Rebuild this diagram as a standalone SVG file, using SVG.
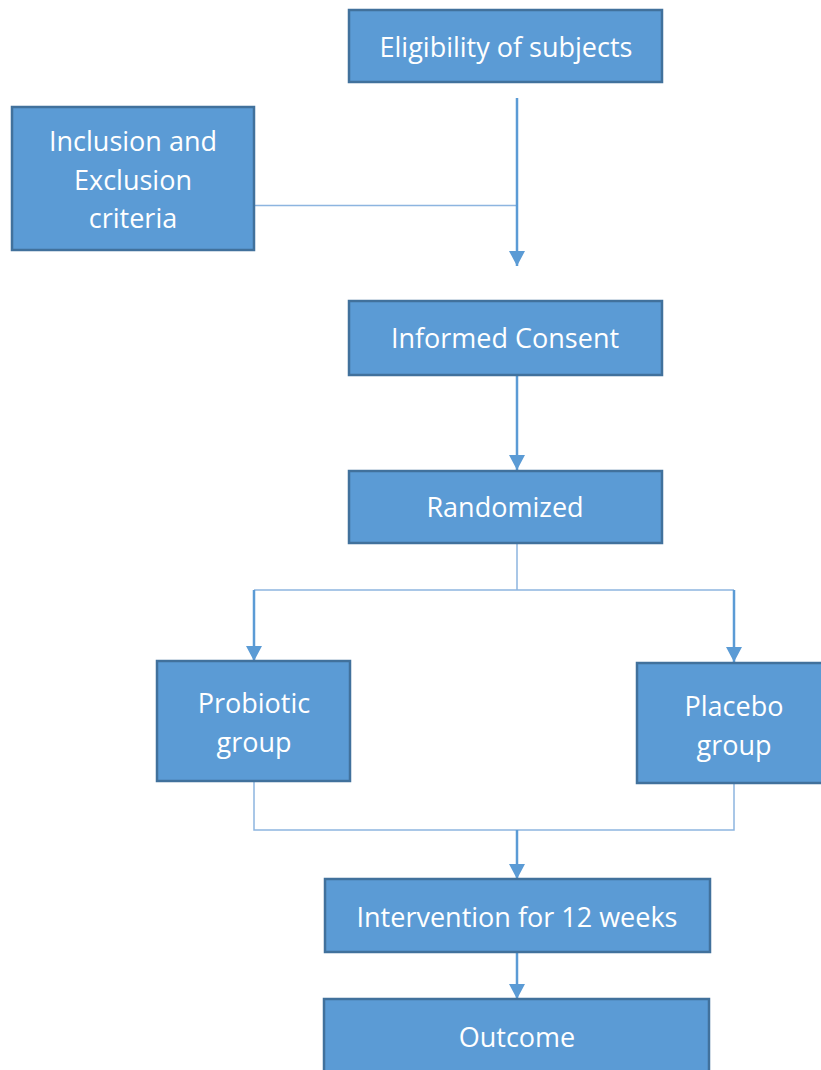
<svg xmlns="http://www.w3.org/2000/svg" width="821" height="1070" viewBox="0 0 821 1070">
<style>
.box{fill:#5B9BD5;stroke:#41719C;stroke-width:2.5}
.t{font-family:"Open Sans","Liberation Sans",sans-serif;font-size:27px;fill:#fff;text-anchor:middle}
.c{fill:none;stroke:#5B9BD5;stroke-width:2.5}
.thin{fill:none;stroke:#8DB5E0;stroke-width:1.5}
</style>
<defs>
<marker id="a" markerWidth="15" markerHeight="16" refX="15" refY="8" orient="auto" markerUnits="userSpaceOnUse" viewBox="0 0 15 16">
<path d="M0,0 L15,8 L0,16 Z" fill="#5B9BD5"/>
</marker>
</defs>
<rect width="821" height="1070" fill="#fff"/>
<g id="connectors">
<line class="thin" x1="254" y1="205.5" x2="517" y2="205.5"/>
<line class="c" x1="517" y1="98" x2="517" y2="266" marker-end="url(#a)"/>
<line class="c" x1="517" y1="376" x2="517" y2="470" marker-end="url(#a)"/>
<polyline class="thin" points="517,544 517,590 254,590 734,590"/>
<line class="c" x1="254" y1="590" x2="254" y2="661" marker-end="url(#a)"/>
<line class="c" x1="734" y1="590" x2="734" y2="662" marker-end="url(#a)"/>
<polyline class="thin" points="254,782 254,830 734,830 734,784"/>
<line class="c" x1="517" y1="830" x2="517" y2="879" marker-end="url(#a)"/>
<line class="c" x1="517" y1="953" x2="517" y2="999" marker-end="url(#a)"/>
</g>
<g id="eligibility"><rect class="box" x="349" y="10" width="313" height="72"/><text class="t" x="506" y="57">Eligibility of subjects</text></g>
<g id="inclusion"><rect class="box" x="12" y="107" width="242" height="143"/><text class="t" x="133" y="151">Inclusion and</text><text class="t" x="133" y="190">Exclusion</text><text class="t" x="133" y="228">criteria</text></g>
<g id="consent"><rect class="box" x="349" y="301" width="313" height="74"/><text class="t" x="505" y="348">Informed Consent</text></g>
<g id="randomized"><rect class="box" x="349" y="471" width="313" height="72"/><text class="t" x="505" y="517">Randomized</text></g>
<g id="probiotic"><rect class="box" x="157" y="661" width="193" height="120"/><text class="t" x="254" y="713">Probiotic</text><text class="t" x="254" y="752">group</text></g>
<g id="placebo"><rect class="box" x="637" y="663" width="190" height="120"/><text class="t" x="734" y="716">Placebo</text><text class="t" x="734" y="755">group</text></g>
<g id="intervention"><rect class="box" x="325" y="879" width="385" height="73"/><text class="t" x="517" y="927">Intervention for 12 weeks</text></g>
<g id="outcome"><rect class="box" x="324" y="999" width="385" height="80"/><text class="t" x="517" y="1047">Outcome</text></g>
</svg>
